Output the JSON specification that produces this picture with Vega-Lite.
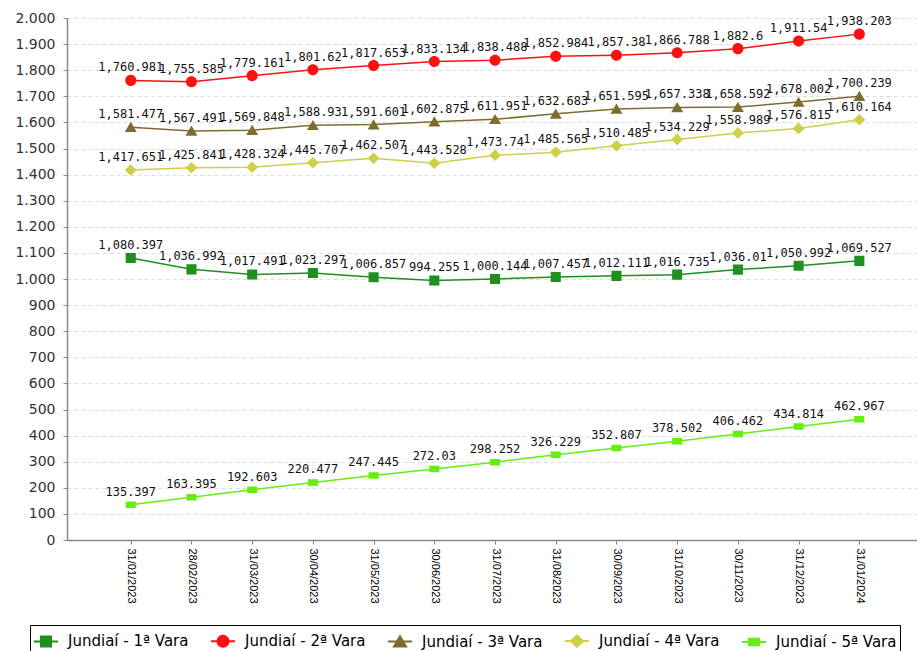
{
  "$schema": "https://vega.github.io/schema/vega-lite/v6.json",
  "autosize": "none",
  "width": 850,
  "height": 522,
  "padding": {"top": 18, "left": 67, "right": 0, "bottom": 111},
  "background": "#ffffff",
  "data": {"values": [
    {"date": "31/01/2023", "series": "Jundiaí - 1ª Vara", "value": 1080.397},
    {"date": "28/02/2023", "series": "Jundiaí - 1ª Vara", "value": 1036.992},
    {"date": "31/03/2023", "series": "Jundiaí - 1ª Vara", "value": 1017.491},
    {"date": "30/04/2023", "series": "Jundiaí - 1ª Vara", "value": 1023.297},
    {"date": "31/05/2023", "series": "Jundiaí - 1ª Vara", "value": 1006.857},
    {"date": "30/06/2023", "series": "Jundiaí - 1ª Vara", "value": 994.255},
    {"date": "31/07/2023", "series": "Jundiaí - 1ª Vara", "value": 1000.144},
    {"date": "31/08/2023", "series": "Jundiaí - 1ª Vara", "value": 1007.457},
    {"date": "30/09/2023", "series": "Jundiaí - 1ª Vara", "value": 1012.111},
    {"date": "31/10/2023", "series": "Jundiaí - 1ª Vara", "value": 1016.735},
    {"date": "30/11/2023", "series": "Jundiaí - 1ª Vara", "value": 1036.01},
    {"date": "31/12/2023", "series": "Jundiaí - 1ª Vara", "value": 1050.992},
    {"date": "31/01/2024", "series": "Jundiaí - 1ª Vara", "value": 1069.527},
    {"date": "31/01/2023", "series": "Jundiaí - 2ª Vara", "value": 1760.981},
    {"date": "28/02/2023", "series": "Jundiaí - 2ª Vara", "value": 1755.585},
    {"date": "31/03/2023", "series": "Jundiaí - 2ª Vara", "value": 1779.161},
    {"date": "30/04/2023", "series": "Jundiaí - 2ª Vara", "value": 1801.62},
    {"date": "31/05/2023", "series": "Jundiaí - 2ª Vara", "value": 1817.653},
    {"date": "30/06/2023", "series": "Jundiaí - 2ª Vara", "value": 1833.134},
    {"date": "31/07/2023", "series": "Jundiaí - 2ª Vara", "value": 1838.488},
    {"date": "31/08/2023", "series": "Jundiaí - 2ª Vara", "value": 1852.984},
    {"date": "30/09/2023", "series": "Jundiaí - 2ª Vara", "value": 1857.38},
    {"date": "31/10/2023", "series": "Jundiaí - 2ª Vara", "value": 1866.788},
    {"date": "30/11/2023", "series": "Jundiaí - 2ª Vara", "value": 1882.6},
    {"date": "31/12/2023", "series": "Jundiaí - 2ª Vara", "value": 1911.54},
    {"date": "31/01/2024", "series": "Jundiaí - 2ª Vara", "value": 1938.203},
    {"date": "31/01/2023", "series": "Jundiaí - 3ª Vara", "value": 1581.477},
    {"date": "28/02/2023", "series": "Jundiaí - 3ª Vara", "value": 1567.491},
    {"date": "31/03/2023", "series": "Jundiaí - 3ª Vara", "value": 1569.848},
    {"date": "30/04/2023", "series": "Jundiaí - 3ª Vara", "value": 1588.93},
    {"date": "31/05/2023", "series": "Jundiaí - 3ª Vara", "value": 1591.601},
    {"date": "30/06/2023", "series": "Jundiaí - 3ª Vara", "value": 1602.875},
    {"date": "31/07/2023", "series": "Jundiaí - 3ª Vara", "value": 1611.951},
    {"date": "31/08/2023", "series": "Jundiaí - 3ª Vara", "value": 1632.683},
    {"date": "30/09/2023", "series": "Jundiaí - 3ª Vara", "value": 1651.595},
    {"date": "31/10/2023", "series": "Jundiaí - 3ª Vara", "value": 1657.338},
    {"date": "30/11/2023", "series": "Jundiaí - 3ª Vara", "value": 1658.592},
    {"date": "31/12/2023", "series": "Jundiaí - 3ª Vara", "value": 1678.002},
    {"date": "31/01/2024", "series": "Jundiaí - 3ª Vara", "value": 1700.239},
    {"date": "31/01/2023", "series": "Jundiaí - 4ª Vara", "value": 1417.651},
    {"date": "28/02/2023", "series": "Jundiaí - 4ª Vara", "value": 1425.841},
    {"date": "31/03/2023", "series": "Jundiaí - 4ª Vara", "value": 1428.324},
    {"date": "30/04/2023", "series": "Jundiaí - 4ª Vara", "value": 1445.707},
    {"date": "31/05/2023", "series": "Jundiaí - 4ª Vara", "value": 1462.507},
    {"date": "30/06/2023", "series": "Jundiaí - 4ª Vara", "value": 1443.528},
    {"date": "31/07/2023", "series": "Jundiaí - 4ª Vara", "value": 1473.74},
    {"date": "31/08/2023", "series": "Jundiaí - 4ª Vara", "value": 1485.565},
    {"date": "30/09/2023", "series": "Jundiaí - 4ª Vara", "value": 1510.485},
    {"date": "31/10/2023", "series": "Jundiaí - 4ª Vara", "value": 1534.229},
    {"date": "30/11/2023", "series": "Jundiaí - 4ª Vara", "value": 1558.989},
    {"date": "31/12/2023", "series": "Jundiaí - 4ª Vara", "value": 1576.815},
    {"date": "31/01/2024", "series": "Jundiaí - 4ª Vara", "value": 1610.164},
    {"date": "31/01/2023", "series": "Jundiaí - 5ª Vara", "value": 135.397},
    {"date": "28/02/2023", "series": "Jundiaí - 5ª Vara", "value": 163.395},
    {"date": "31/03/2023", "series": "Jundiaí - 5ª Vara", "value": 192.603},
    {"date": "30/04/2023", "series": "Jundiaí - 5ª Vara", "value": 220.477},
    {"date": "31/05/2023", "series": "Jundiaí - 5ª Vara", "value": 247.445},
    {"date": "30/06/2023", "series": "Jundiaí - 5ª Vara", "value": 272.03},
    {"date": "31/07/2023", "series": "Jundiaí - 5ª Vara", "value": 298.252},
    {"date": "31/08/2023", "series": "Jundiaí - 5ª Vara", "value": 326.229},
    {"date": "30/09/2023", "series": "Jundiaí - 5ª Vara", "value": 352.807},
    {"date": "31/10/2023", "series": "Jundiaí - 5ª Vara", "value": 378.502},
    {"date": "30/11/2023", "series": "Jundiaí - 5ª Vara", "value": 406.462},
    {"date": "31/12/2023", "series": "Jundiaí - 5ª Vara", "value": 434.814},
    {"date": "31/01/2024", "series": "Jundiaí - 5ª Vara", "value": 462.967}
  ]},
  "encoding": {
    "x": {
      "field": "date", "type": "ordinal", "sort": null,
      "scale": {"type": "point", "padding": 1.0055, "align": 0.525},
      "axis": {"title": null, "labelAngle": 90, "labelFont": "Liberation Sans", "labelFontSize": 11, "labelColor": "#000", "labelPadding": 4, "tickSize": 4, "tickColor": "#888", "domainColor": "#888", "domainWidth": 1.5, "grid": false}
    },
    "y": {
      "field": "value", "type": "quantitative",
      "scale": {"domain": [0, 2000], "nice": false, "zero": true},
      "axis": {"title": null, "values": [0,100,200,300,400,500,600,700,800,900,1000,1100,1200,1300,1400,1500,1600,1700,1800,1900,2000],
        "labelExpr": "replace(format(datum.value, ','), ',', '.')",
        "labelFont": "DejaVu Sans", "labelFontSize": 14, "labelColor": "#333", "labelPadding": 8,
        "tickSize": 4, "tickColor": "#888", "domainColor": "#888", "domainWidth": 1.5,
        "grid": true, "gridColor": "#dddddd", "gridDash": [4, 3], "gridWidth": 1}
    },
    "color": {"field": "series", "type": "nominal",
      "scale": {"domain": ["Jundiaí - 1ª Vara", "Jundiaí - 2ª Vara", "Jundiaí - 3ª Vara", "Jundiaí - 4ª Vara", "Jundiaí - 5ª Vara"],
                "range": ["#1f8f1f", "#ff1010", "#7f6d30", "#cfcf48", "#66ee11"]},
      "legend": {"encode": {"symbols": {"update": {"stroke": {"scale": "color", "field": "value"}, "strokeWidth": {"value": 2}}}}}}
  },
  "layer": [
    {
      "mark": {"type": "line", "strokeWidth": 1.5}
    },
    {
      "mark": {"type": "point", "filled": true, "size": 576, "opacity": 1},
      "encoding": {
        "shape": {"field": "series", "type": "nominal",
          "scale": {"domain": ["Jundiaí - 1ª Vara", "Jundiaí - 2ª Vara", "Jundiaí - 3ª Vara", "Jundiaí - 4ª Vara", "Jundiaí - 5ª Vara"],
            "range": [
              "M-1,0H1M-0.42,-0.42H0.42V0.42H-0.42Z",
              "M-1,0H1M0.46,0A0.46 0.46 0 1 1 -0.46,0A0.46 0.46 0 1 1 0.46,0Z",
              "M-1,0H1M0,-0.45L0.5,0.4H-0.5Z",
              "M-1,0H1M0,-0.48L0.5,0L0,0.48L-0.5,0Z",
              "M-1,0H1M-0.42,-0.27H0.42V0.27H-0.42Z"
            ]},
          "legend": {"encode": {"symbols": {"update": {"stroke": {"scale": "color", "field": "value"}, "strokeWidth": {"value": 2}}}}}}
      }
    },
    {
      "mark": {"type": "text", "dy": -13, "font": "DejaVu Sans Mono", "fontSize": 12, "color": "#111"},
      "encoding": {
        "color": {"value": "#111"},
        "text": {"field": "value", "type": "quantitative", "format": ",.3~f"}
      }
    }
  ],
  "config": {
    "view": {"stroke": null},
    "legend": {
      "orient": "none", "legendX": -37, "legendY": 607,
      "direction": "horizontal", "columns": 5, "title": null,
      "strokeColor": "#000", "padding": 3,
      "symbolSize": 576, "symbolStrokeWidth": 2,
      "labelFont": "DejaVu Sans", "labelFontSize": 15, "labelColor": "#000",
      "labelOffset": 9, "columnPadding": 18, "labelLimit": 300
    }
  }
}
